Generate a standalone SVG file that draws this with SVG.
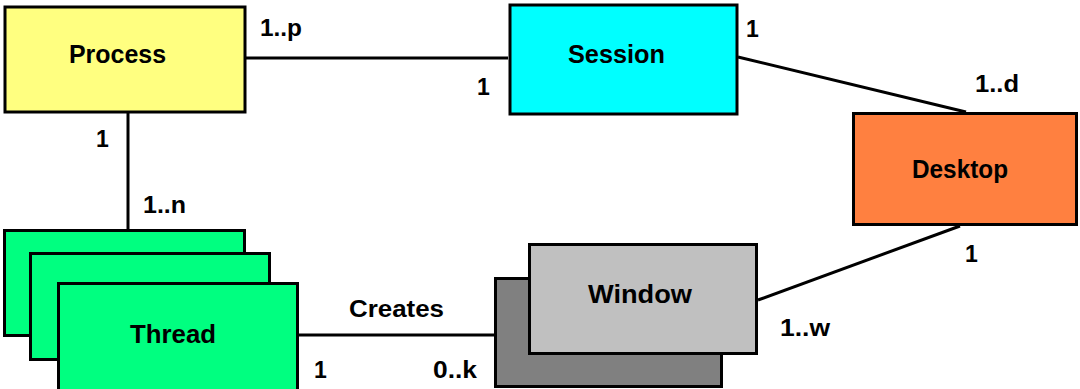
<svg xmlns="http://www.w3.org/2000/svg" width="1080" height="389" viewBox="0 0 1080 389">
<style>
.box{stroke:#000;stroke-width:3}
.nl{font-family:"Liberation Sans",Arial,sans-serif;font-weight:bold;font-size:26px;fill:#000}
.lb{font-family:"Liberation Sans",Arial,sans-serif;font-weight:bold;font-size:23px;fill:#000}
.cn{stroke:#000;stroke-width:3;fill:none}
</style>
<rect width="1080" height="389" fill="#fff"/>
<g id="connectors">
<line class="cn" x1="246" y1="58" x2="508" y2="58"/>
<line class="cn" x1="738" y1="57" x2="966" y2="112"/>
<line class="cn" x1="128" y1="113" x2="128" y2="229"/>
<line class="cn" x1="299" y1="335" x2="494" y2="335"/>
<line class="cn" x1="960" y1="226" x2="758" y2="300"/>
</g>
<g id="process">
<rect class="box" x="5" y="7" width="240" height="105" fill="#FFFF80"/>
<text class="nl" x="69" y="63" textLength="97" lengthAdjust="spacingAndGlyphs">Process</text>
</g>
<g id="session">
<rect class="box" x="510" y="5" width="227" height="109" fill="#00FFFF"/>
<text class="nl" x="568" y="63" textLength="97" lengthAdjust="spacingAndGlyphs">Session</text>
</g>
<g id="desktop">
<rect class="box" x="853.5" y="113.5" width="223" height="111" fill="#FF8040"/>
<text class="nl" x="912" y="178" textLength="96" lengthAdjust="spacingAndGlyphs">Desktop</text>
</g>
<g id="thread">
<rect class="box" x="4.5" y="230.5" width="240" height="105" fill="#00FF80"/>
<rect class="box" x="30.5" y="253.5" width="239" height="106" fill="#00FF80"/>
<rect class="box" x="58.5" y="283.5" width="239" height="110" fill="#00FF80"/>
<text class="nl" x="130" y="343" textLength="86" lengthAdjust="spacingAndGlyphs">Thread</text>
</g>
<g id="window">
<rect class="box" x="495.5" y="278.5" width="226" height="108" fill="#808080"/>
<rect class="box" x="529.5" y="244.5" width="227" height="109" fill="#C0C0C0"/>
<text class="nl" x="588" y="303" textLength="104" lengthAdjust="spacingAndGlyphs">Window</text>
</g>
<g id="labels">
<text class="lb" x="260" y="36" textLength="42" lengthAdjust="spacingAndGlyphs">1..p</text>
<text class="lb" x="477" y="95">1</text>
<text class="lb" x="746" y="37">1</text>
<text class="lb" x="975" y="92" textLength="44" lengthAdjust="spacingAndGlyphs">1..d</text>
<text class="lb" x="96" y="147">1</text>
<text class="lb" x="143" y="213" textLength="43" lengthAdjust="spacingAndGlyphs">1..n</text>
<text class="lb" x="965" y="262">1</text>
<text class="lb" x="780" y="336" textLength="50" lengthAdjust="spacingAndGlyphs">1..w</text>
<text class="lb" x="349" y="317" textLength="95" lengthAdjust="spacingAndGlyphs">Creates</text>
<text class="lb" x="314" y="378">1</text>
<text class="lb" x="433" y="378" textLength="44" lengthAdjust="spacingAndGlyphs">0..k</text>
</g>
</svg>
